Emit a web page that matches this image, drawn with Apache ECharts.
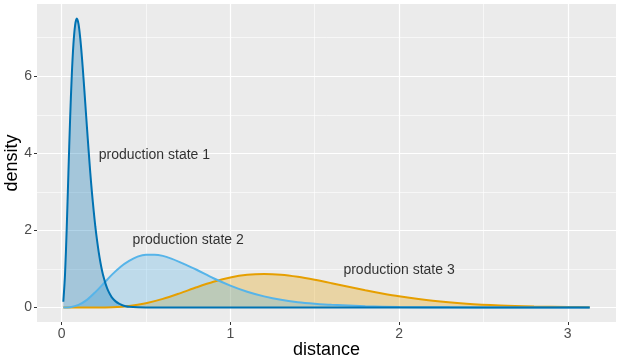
<!DOCTYPE html>
<html>
<head>
<meta charset="utf-8">
<script src="https://cdn.jsdelivr.net/npm/echarts@6/dist/echarts.min.js"></script>
<style>
  html, body { margin: 0; padding: 0; background: #fff; }
  #densityChart { width: 621px; height: 360px; }
</style>
</head>
<body>
<div id="densityChart"></div>
<script>
// 三个生产状态的密度曲线
const state1X = [0.01, 0.02, 0.03, 0.04, 0.05, 0.06, 0.07, 0.08, 0.09, 0.10, 0.11, 0.12, 0.13, 0.14, 0.15, 0.16, 0.17, 0.18, 0.19, 0.20, 0.21, 0.22, 0.23, 0.24, 0.25, 0.26, 0.27, 0.28, 0.29, 0.30, 0.32, 0.34, 0.36, 0.38, 0.40, 0.45, 0.50, 0.60, 3.13];
const state1Y = [0.15, 0.85, 2.04, 3.47, 4.86, 6.01, 6.84, 7.33, 7.50, 7.36, 7.00, 6.51, 5.93, 5.31, 4.68, 4.07, 3.49, 2.97, 2.51, 2.09, 1.74, 1.43, 1.17, 0.95, 0.77, 0.62, 0.50, 0.40, 0.32, 0.25, 0.16, 0.10, 0.06, 0.036, 0.021, 0.006, 0.0015, 0, 0];

const state2X = [0.01, 0.05, 0.10, 0.15, 0.20, 0.25, 0.30, 0.35, 0.40, 0.45, 0.50, 0.55, 0.60, 0.65, 0.70, 0.75, 0.80, 0.90, 1.00, 1.10, 1.20, 1.30, 1.40, 1.50, 1.60, 1.80, 2.00, 2.30, 2.60, 3.13];
const state2Y = [0.0, 0.01, 0.07, 0.20, 0.40, 0.63, 0.86, 1.06, 1.21, 1.32, 1.37, 1.37, 1.34, 1.27, 1.18, 1.08, 0.98, 0.76, 0.57, 0.41, 0.29, 0.20, 0.14, 0.10, 0.07, 0.035, 0.015, 0.005, 0.001, 0];

const state3X = [0.01, 0.10, 0.20, 0.30, 0.40, 0.50, 0.60, 0.70, 0.80, 0.90, 1.00, 1.10, 1.20, 1.30, 1.40, 1.50, 1.60, 1.70, 1.80, 1.90, 2.00, 2.20, 2.40, 2.60, 2.80, 3.00, 3.13];
const state3Y = [0, 0, 0.001, 0.01, 0.042, 0.113, 0.225, 0.369, 0.525, 0.668, 0.780, 0.848, 0.869, 0.850, 0.796, 0.720, 0.632, 0.539, 0.448, 0.365, 0.292, 0.177, 0.101, 0.055, 0.029, 0.015, 0.009];

const labelTexts = ["production state 1", "production state 2", "production state 3"];
const labelX = [0.55, 0.75, 2.0];
const labelY = [3.95, 1.75, 0.96];

const xTicks = [0, 1, 2, 3];
const yTicks = [0, 2, 4, 6];
const xMinor = [0.5, 1.5, 2.5];
const yMinor = [1, 3, 5, 7];

const fontFamily = "Liberation Sans, Arial, sans-serif";

function pairs(xs, ys) {
	return xs.map((x, i) => [x, ys[i]]);
}

function densitySeries(name, xs, ys, color) {
	return {
		name: name,
		type: "line",
		data: pairs(xs, ys),
		symbol: "none",
		smooth: 0.3,
		z: 2,
		lineStyle: { color: color, width: 2 },
		areaStyle: { color: color, opacity: 0.3 },
	};
}

const chart = echarts.init(document.getElementById("densityChart"));

const minorLines = xMinor.map((v) => ({ xAxis: v })).concat(yMinor.map((v) => ({ yAxis: v })));

const state3 = densitySeries("production state 3", state3X, state3Y, "#E69F00");
state3.markLine = {
	silent: true,
	z: 1,
	symbol: ["none", "none"],
	label: { show: false },
	lineStyle: { color: "#FFFFFF", width: 0.6, type: "solid" },
	data: minorLines,
};

const option = {
	animation: false,
	backgroundColor: "#FFFFFF",
	grid: {
		left: 37,
		right: 5,
		top: 4,
		bottom: 38,
		outerBoundsMode: "none",
		containLabel: false,
		show: true,
		backgroundColor: "#EBEBEB",
		borderWidth: 0,
	},
	xAxis: {
		type: "value",
		min: -0.146,
		max: 3.286,
		name: "distance",
		nameLocation: "middle",
		nameGap: 19,
		nameMoveOverlap: false,
		nameTextStyle: { color: "#000", fontSize: 18, fontFamily: fontFamily },
		axisLine: { show: false, onZero: false },
		axisTick: { show: true, length: 3, customValues: xTicks, lineStyle: { color: "#333333", width: 1 } },
		axisLabel: { customValues: xTicks, color: "#4D4D4D", fontSize: 14, margin: 5, fontFamily: fontFamily },
		splitLine: { show: true, lineStyle: { color: "#FFFFFF", width: 1.2 } },
	},
	yAxis: {
		type: "value",
		min: -0.375,
		max: 7.875,
		name: "density",
		nameLocation: "middle",
		nameGap: 16,
		nameRotate: 90,
		nameMoveOverlap: false,
		nameTextStyle: { color: "#000", fontSize: 18, fontFamily: fontFamily },
		axisLine: { show: false, onZero: false },
		axisTick: { show: true, length: 3, customValues: yTicks, lineStyle: { color: "#333333", width: 1 } },
		axisLabel: { customValues: yTicks, color: "#4D4D4D", fontSize: 14, margin: 5, fontFamily: fontFamily },
		splitLine: { show: true, lineStyle: { color: "#FFFFFF", width: 1.2 } },
	},
	series: [
		state3,
		densitySeries("production state 2", state2X, state2Y, "#56B4E9"),
		densitySeries("production state 1", state1X, state1Y, "#0072B2"),
		{
			type: "scatter",
			symbolSize: 0,
			z: 5,
			silent: true,
			itemStyle: { color: "rgba(0,0,0,0)" },
			label: {
				show: true,
				position: "inside",
				color: "#000",
				fontSize: 14,
				fontFamily: fontFamily,
				formatter: (p) => p.value[2],
			},
			data: labelTexts.map((t, i) => [labelX[i], labelY[i], t]),
		},
	],
};

chart.setOption(option, true);
</script>
</body>
</html>
